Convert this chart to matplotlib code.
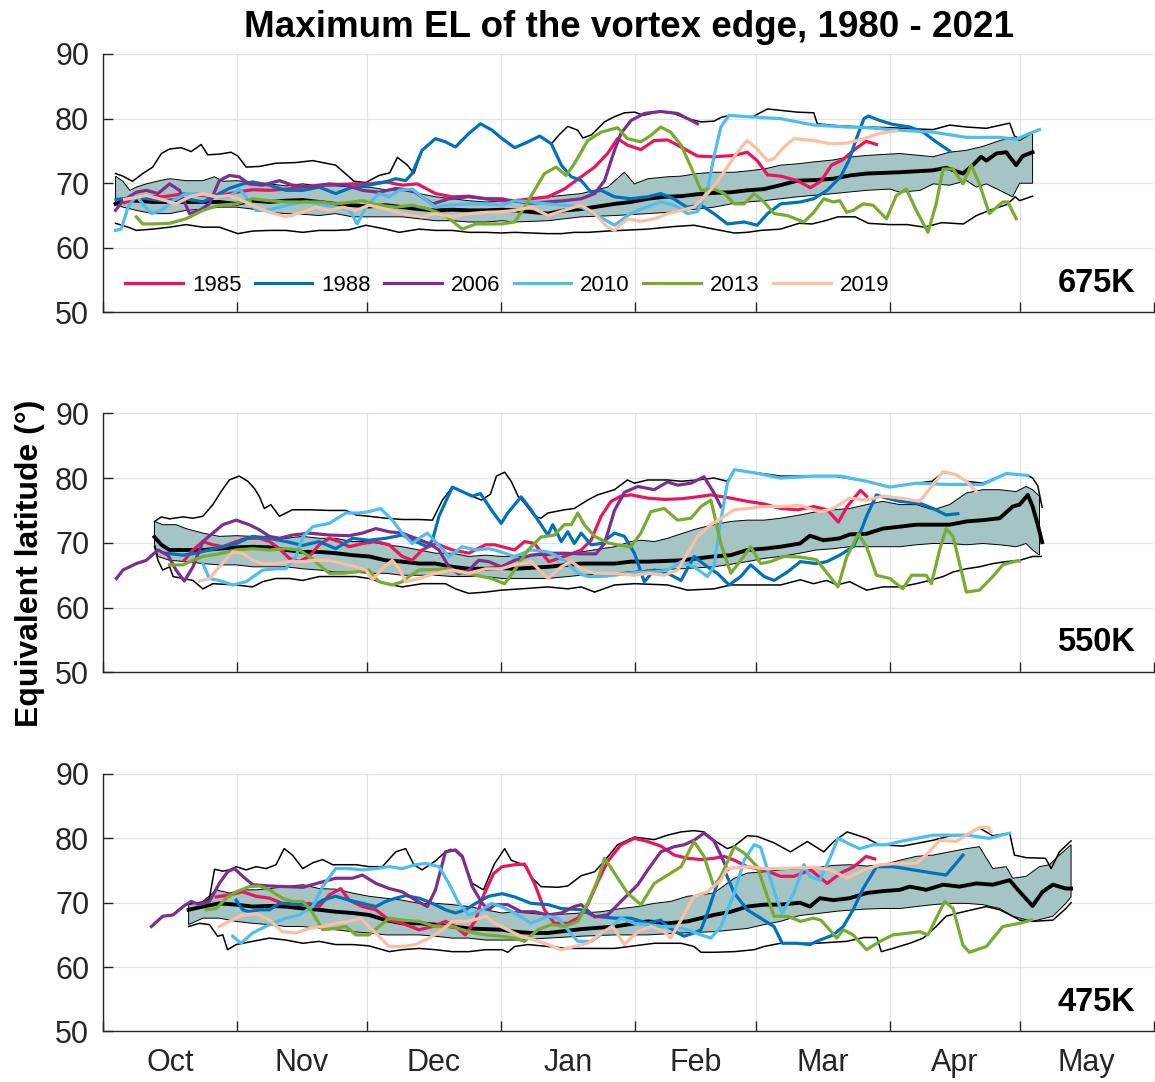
import numpy as np
import matplotlib
matplotlib.use("Agg")
import matplotlib.pyplot as plt

plt.rcParams['font.family'] = ['Liberation Sans', 'DejaVu Sans']

# x = days since 1 October, y = equivalent latitude (deg)
years = ['1985', '1988', '2006', '2010', '2013', '2019']
colors = ['#E8175D', '#0072BD', '#7E2F8E', '#4DBEEE', '#77AC30', '#FBBFA5']
levels = ['675K', '550K', '475K']
month_names = ['Oct', 'Nov', 'Dec', 'Jan', 'Feb', 'Mar', 'Apr', 'May']
month_starts = [0, 31, 61, 92, 123, 151, 182, 212, 243]

# ---------------- 675K ----------------
max_675 = [(2.9,71.5),(4.6,71.1),(6.8,70.3),(9.2,71.5),(11.5,72.5),(13.5,74.6),(15.4,75.3),(18.1,75.5),(20.4,74.9),
           (22.7,76.0),(24.2,74.4),(26.9,74.5),(29.6,74.8),(31.2,74.2),(33.1,72.5),(36.2,72.6),(40,73.1),(44.6,73.2),
           (48.5,73.5),(53.8,72.8),(58.1,70.3),(60.8,70.1),(63.8,71.2),(66.3,71.6),(68.1,74.0),(70.4,72.8),(71.9,71.5),
           (73.8,75.1),(76.9,76.9),(79.2,76.4),(81.5,75.6),(84.6,77.7),(87.3,79.2),(90,78.2),(92.3,76.9),(95.2,75.5),
           (98.3,76.4),(101,77.3),(103.7,76.1),(105.5,77.5),(107.5,78.8),(109.8,78.2),(111,77.0),(113,77.5),(116,79.5),
           (118.3,80.3),(120.6,80.9),(123,81.0),(125,80.5),(128.5,81.1),(132,80.8),(135,80.0),(138.3,79.5),(141.3,79.6),
           (143,80.2),(145,80.5),(150,80.2),(153.7,81.5),(155,81.4),(160.6,81.0),(164.4,80.9),(165.2,79.2),(170,78.9),
           (176,78.7),(182,78.6),(188,78.4),(192,78.3),(195.8,79.0),(199.7,78.7),(204.3,78.5),(209.7,79.3),(210.8,77.3),
           (212,76.9),(215,77.9)]
min_675 = [(2.9,63.8),(5.8,63.2),(7.7,62.7),(11.5,62.9),(15.4,63.2),(19.2,63.6),(23.1,63.2),(26.9,63.2),(31.2,62.2),
           (34.6,62.6),(38.5,62.7),(42.3,62.7),(46.2,62.4),(50,62.7),(53.8,62.7),(56.9,62.8),(60.8,63.5),(65.4,62.9),
           (68.5,62.4),(73.1,62.9),(76.9,62.7),(80.8,62.7),(84.6,62.4),(88.5,62.4),(92.1,62.3),(95.2,62.4),(99,62.3),
           (102.9,62.2),(106,62.2),(109,62.4),(112.1,62.4),(116.7,62.6),(119.8,62.7),(122.9,62.8),(126,62.9),(129,63.1),
           (132.1,63.3),(136.7,63.5),(141.3,62.9),(146,62.3),(149,62.4),(152.1,62.7),(156.7,62.9),(161,63.8),(164,63.7),
           (167,64.2),(170,64.8),(174,64.8),(177,63.8),(182,63.6),(186,63.6),(190,63.2),(194,63.9),(199,63.7),(202,65.0),
           (205,65.8),(209,66.7),(211,67.9),(212,67.3),(215,68.0)]
upper_675 = [(2.9,71.1),(4.6,70.3),(6.2,68.9),(7.7,69.4),(10,69.9),(13.1,70.4),(15.4,70.7),(19.2,70.4),(23.1,70.4),
             (25.8,71.0),(27.7,70.3),(30.8,70.4),(34.6,70.2),(38.5,69.9),(42.3,69.6),(46.2,69.9),(50,69.6),(53.8,69.6),
             (57.7,69.4),(61.5,69.4),(65.4,69.0),(69.2,68.9),(73.1,68.4),(76.9,67.9),(80.8,67.6),(84.6,67.3),(88.5,67.1),
             (95.2,67.3),(102.9,67.9),(110.6,68.4),(116.7,69.4),(120.6,71.7),(122.9,69.9),(126,70.7),(130.6,71.0),
             (133.7,71.1),(137.5,71.5),(141.3,71.7),(146,71.7),(149,71.9),(152.9,72.2),(156.7,72.8),(160.6,73.0),
             (164.4,73.3),(168.9,73.6),(172,74.0),(176.6,74.3),(184.3,74.6),(192,74.1),(195.8,74.8),(199.7,75.1),
             (203.5,75.7),(207.4,76.6),(210.4,77.1),(212,76.6),(215,77.8)]
lower_675 = [(2.9,66.8),(4.6,66.3),(7.7,65.8),(11.5,65.3),(15.4,65.3),(19.2,65.8),(23.1,66.0),(26.9,66.3),(30.8,66.3),
             (34.6,66.0),(38.5,65.5),(42.3,65.3),(46.2,65.2),(50,65.0),(53.8,65.3),(57.7,64.8),(61.5,64.8),(65.4,64.8),
             (69.2,64.8),(73.1,64.5),(76.9,64.2),(80.8,64.2),(84.6,64.0),(88.5,64.0),(92.3,64.2),(95.2,64.0),(102.9,64.2),
             (110.6,64.8),(118.3,65.0),(126,65.3),(130.6,65.5),(133.7,65.8),(137.5,66.0),(141.3,66.3),(145.2,66.8),
             (149,67.1),(152.9,67.3),(156.7,67.6),(160.6,67.9),(168.9,68.4),(176.6,68.9),(182,69.1),(184.3,68.6),
             (189,68.9),(192,69.9),(195.8,69.7),(199.7,70.4),(202,69.4),(204.3,69.9),(207.4,68.9),(210.4,67.9),
             (212,70.0),(215,70.0)]
median_675 = [(2.9,66.8),(4.6,67.3),(7.7,67.3),(11.5,67.1),(15.4,67.1),(19.2,67.1),(23.1,67.1),(26.9,67.1),(30.8,66.8),
              (34.6,67.3),(38.5,67.1),(42.3,67.3),(46.2,67.4),(50,67.1),(53.8,66.8),(57.7,66.6),(61.5,66.4),(65.4,66.6),
              (69.2,66.3),(73.1,66.0),(76.9,65.8),(80.8,65.9),(84.6,65.8),(88.5,65.8),(92.3,65.9),(95.2,65.8),
              (102.9,65.3),(106.7,65.8),(110.6,66.0),(118.3,66.8),(122.1,67.1),(126,67.6),(129.8,67.9),(133.7,68.0),
              (137.5,68.3),(141.3,68.5),(145.2,68.6),(149,68.9),(152.9,69.1),(156.7,69.7),(160.6,70.4),(165,70.5),
              (168.9,70.7),(172.7,71.2),(176.6,71.5),(184.3,71.7),(192,72.0),(195,72.4),(198.9,71.5),(201.2,72.8),
              (203.1,74.1),(204.3,73.5),(206.6,74.6),(208.9,74.8),(211.2,72.8),(212.7,74.2),(215,74.8)]
y1985_675 = [(5,67.0),(9,68.0),(13.8,67.9),(19.2,68.4),(25.4,67.9),(30.8,68.6),(34.6,69.0),(38.5,68.9),(42.3,69.1),
             (46.2,69.4),(50,69.7),(53.8,69.8),(57.7,69.9),(61.5,69.9),(65.4,70.2),(69.2,69.7),(72.7,69.9),(76.9,68.4),
             (80.8,67.9),(84.6,68.0),(88.5,67.6),(92.3,67.3),(95.2,67.3),(102.9,67.9),(106.7,69.1),(110.6,71.0),
             (113.7,72.5),(116.7,74.6),(119,76.9),(121.3,75.9),(124.4,75.2),(127.5,76.6),(130.6,76.7),(133.7,75.6),
             (137.5,74.2),(141.3,74.1),(146,74.3),(149,74.8),(151.3,73.5),(153.7,71.3),(156.7,71.1),(160.6,70.4),
             (163.6,69.3),(166,70.3),(168.5,72.8),(171,73.6),(174,75.3),(176.5,76.5),(178.9,76.0)]
y1988_675 = [(3,67.5),(7.7,67.8),(13.8,67.3),(19.2,67.6),(23.1,67.1),(26.9,68.4),(29.2,69.2),(32.3,69.9),(34.6,70.2),
             (38.5,69.7),(42.3,68.9),(46.2,68.9),(50,69.4),(53.8,68.4),(57.7,69.4),(61.5,69.7),(65.4,70.2),(67.7,70.7),
             (70,70.4),(71.5,71.5),(73.8,75.1),(76.9,76.9),(79.2,76.4),(81.5,75.6),(84.6,77.7),(87.3,79.2),(90,78.2),
             (92.3,76.9),(95.2,75.5),(98.3,76.4),(101,77.3),(103.7,76.1),(106,72.8),(108.3,71.0),(110.6,70.4),
             (112.9,68.6),(115.2,68.9),(118.3,67.9),(122,67.6),(126,67.9),(129,68.4),(132,67.6),(135,66.3),(138.3,66.6),
             (141.3,65.3),(144.4,63.7),(148.3,64.0),(151.3,63.5),(153.7,65.3),(156.7,66.8),(161.3,67.1),(164.4,67.6),
             (167.5,68.9),(170.6,71.0),(172.5,73.5),(174.3,77.0),(176,80.0),(177,80.4),(179.7,79.7),(182.7,79.1),
             (186.6,78.7),(189.7,77.9),(192.7,76.4),(195.8,75.0)]
y2006_675 = [(2.9,65.8),(4.6,67.3),(7.7,68.6),(10,68.9),(12.7,68.4),(15.4,69.9),(17.7,68.9),(20,65.3),(22.3,65.8),
             (24.6,66.8),(26.9,70.4),(29.2,71.2),(31.5,71.0),(33.8,69.9),(36.9,69.7),(40.8,70.4),(43.8,69.7),(47.7,69.4),
             (52.3,69.9),(56.2,69.7),(60,68.9),(63.8,68.6),(67.7,69.2),(71.5,68.9),(76.2,66.8),(80,67.6),(84.6,67.9),
             (88.5,67.6),(92.3,67.6),(93.6,67.4),(99,66.9),(102.9,67.1),(106.7,67.3),(110.6,67.6),(113.7,68.4),(116,70.4),
             (118.3,75.1),(119.8,77.7),(122.1,79.7),(125.2,80.8),(129,81.1),(132.9,80.8),(135.2,80.0),(137.5,79.2)]
y2010_675 = [(2.9,62.7),(4.2,62.9),(5.8,66.3),(7.7,68.1),(9.2,66.8),(11.2,65.3),(13.5,65.8),(16.2,67.3),(19.2,68.4),
             (21.5,68.4),(24.6,68.1),(26.9,67.9),(29.2,67.9),(31.5,69.1),(33.1,67.9),(35.4,65.8),(37.7,65.8),(40.8,66.3),
             (43.8,66.8),(46.9,67.1),(50,66.8),(53.8,66.3),(56.9,66.0),(58.8,63.7),(60.8,66.3),(63.8,68.4),(66.2,67.9),
             (68.5,68.9),(71.5,69.1),(73.8,67.9),(76.9,66.3),(80,66.6),(84.6,66.8),(88.5,66.8),(92.3,66.6),(95.2,67.3),
             (99,67.1),(102.9,66.8),(106.7,66.6),(110.6,66.3),(114.4,65.0),(118.3,63.5),(121.3,65.0),(124.4,66.0),
             (129,67.1),(132.1,66.6),(135.2,65.3),(137.5,65.6),(139.8,69.0),(141.3,74.1),(142.9,78.7),(144.8,80.5),
             (149,80.3),(156.7,80.0),(164.4,79.0),(172.1,78.7),(176.6,78.6),(184.3,78.2),(192,77.9),(199.7,77.1),
             (207.4,77.1),(211.2,76.8),(215,77.9),(216.6,78.3)]
y2013_675 = [(7.7,64.8),(9.2,63.7),(11.5,63.7),(15.4,63.8),(19.2,64.5),(23.1,65.8),(26.9,66.6),(30.8,66.8),(34.6,67.6),
             (38.5,67.3),(42.3,67.1),(46.2,67.1),(50,67.1),(53.8,66.8),(57.7,67.1),(60,67.3),(63.8,66.6),(67.7,66.3),
             (71.5,66.6),(75.4,66.0),(79.2,65.0),(83.1,62.9),(86.2,63.7),(89.2,63.7),(92.1,63.7),(95.2,64.0),(97.5,66.3),
             (99.8,68.9),(102.1,71.5),(104.8,72.5),(107.1,71.2),(109,73.0),(112.1,76.6),(115.2,77.9),(119,78.6),
             (121.3,76.9),(124.4,76.4),(126.7,77.4),(129,78.7),(131.3,77.9),(133.7,75.9),(136,72.5),(138.3,68.9),
             (141.3,69.1),(143.7,68.4),(146,66.8),(148.3,66.8),(150.6,68.4),(152.9,67.1),(155.2,65.3),(158.3,65.0),
             (162.1,64.0),(164.4,65.5),(166.7,67.6),(168.9,67.1),(170.4,67.3),(172,65.5),(173.5,65.8),(175.8,66.8),
             (178.1,66.6),(181.2,64.5),(183.5,68.1),(185.8,69.1),(188.1,65.8),(190.8,62.4),(192.7,66.8),(194.3,72.2),
             (196.6,72.2),(198.9,69.9),(200.8,72.8),(202.7,69.9),(205,65.3),(208.1,67.1),(209.3,67.1),(211.2,64.5)]
y2019_675 = [(5,67.5),(10,68.1),(13.1,67.6),(16.9,66.8),(20,67.9),(23.1,68.4),(26.2,67.9),(29.2,68.1),(32.3,67.3),
             (35.4,66.3),(38.5,65.5),(42.3,64.8),(46.2,65.5),(49.2,66.3),(52.3,65.8),(55.4,66.3),(58.5,65.8),(61.5,66.6),
             (65.4,66.0),(69.2,65.3),(73.8,64.8),(76.9,65.3),(80.8,64.8),(84.6,65.3),(88.5,65.5),(92.3,65.6),(95.2,65.8),
             (99,66.3),(102.9,65.0),(107.5,66.0),(110.6,66.6),(113.7,65.3),(116.7,63.2),(118.3,62.7),(121.3,64.5),
             (124.4,64.1),(127.5,64.5),(130.6,65.3),(133.7,65.8),(136.7,66.3),(139.8,68.4),(142.1,70.2),(144.4,72.5),
             (146.7,74.8),(149,76.6),(151.3,75.3),(153.7,73.5),(155.2,73.8),(157.5,75.6),(159.8,76.9),(164.4,76.6),
             (168.3,76.1),(172,76.2),(176,76.9),(179.5,77.7),(183.5,78.1)]

# ---------------- 550K ----------------
max_550 = [(11.9,73.3),(13.5,74.0),(15.4,73.7),(18.5,74.0),(20.8,73.8),(23.1,74.1),(25.4,75.9),(27.3,77.9),(29.2,79.7),
           (31.5,80.3),(33.5,79.5),(35,78.4),(36.2,77.1),(37.3,75.3),(38.8,75.9),(40.8,74.1),(43.8,75.1),(47.7,75.1),
           (52.3,75.0),(56.2,75.0),(58.5,74.3),(61.5,74.1),(65.4,73.8),(69.2,73.6),(73.1,73.6),(76.2,73.5),(78.5,76.6),
           (80.8,78.6),(83.1,77.9),(85.4,77.2),(87.5,76.6),(89.6,77.5),(91,80.3),(92.9,80.9),(94.4,79.5),(96,77.2),
           (97.5,76.1),(99.8,74.1),(101.3,73.8),(102.9,74.6),(106.7,75.1),(109,75.3),(112.1,76.6),(114.4,77.4),
           (118.3,78.2),(121.3,79.7),(122.9,79.2),(126,79.7),(130.6,79.7),(133.7,79.5),(137.5,79.7),(141.3,80.0),
           (144.4,79.5),(146,81.3),(149,81.0),(156.7,80.3),(164.4,80.3),(169,80.3),(176.6,79.5),(182,78.6),(188,79.2),
           (191.8,79.5),(194.3,80.9),(197.3,80.5),(199.7,79.5),(203.5,79.2),(208.9,80.7),(213.9,80.4),(215,80.0),
           (216.2,78.8),(217.2,75.5)]
min_550 = [(11.9,69.5),(12.7,67.3),(13.8,65.8),(15.4,66.3),(16.2,64.8),(18.5,64.5),(20.8,64.2),(23.1,62.9),(25.4,63.7),
           (30.8,63.5),(34.6,63.2),(36.9,64.0),(40,64.5),(43.1,64.5),(46.2,64.2),(50,64.8),(53.8,64.8),(58.5,64.8),
           (61.5,64.5),(65.4,63.7),(69.2,63.2),(73.8,63.7),(79.2,63.7),(81.5,62.9),(84.6,62.2),(88.5,62.4),(92.1,62.7),
           (96.7,62.9),(102.9,63.2),(107.5,62.9),(110.6,63.2),(113.7,62.4),(118.3,63.5),(122.9,63.7),(130.6,63.5),
           (135.2,62.7),(141.3,62.9),(145.2,63.5),(149,63.5),(156.7,63.5),(161.3,64.3),(164.3,63.7),(167.4,64.2),
           (169.7,63.5),(172.7,64.0),(176.6,62.7),(180.4,63.2),(184.3,63.2),(188.1,63.7),(191.2,64.2),(194.3,64.8),
           (196.6,65.5),(199.7,66.0),(202.7,66.3),(205.8,66.8),(208.9,67.1),(212,67.3),(215,67.9),(217,67.9)]
upper_550 = [(11.9,73.3),(13.8,72.8),(16.9,72.8),(19.2,72.2),(23.1,71.5),(26.9,71.0),(30.8,71.1),(34.6,71.0),(38.5,71.0),
             (42.3,70.7),(46.2,71.0),(50,70.7),(53.8,70.7),(57.7,70.2),(61.5,70.2),(65.4,69.7),(69.2,69.4),(73.1,68.9),
             (76.9,68.4),(80.8,68.4),(84.6,67.9),(88.5,68.1),(92.3,67.9),(95.2,67.9),(102.9,68.1),(110.6,68.6),
             (118.3,69.4),(122.1,70.2),(124.4,70.4),(127.5,70.2),(130.6,70.7),(133.7,71.4),(137.5,72.2),(141.3,72.8),
             (145.2,73.3),(149,73.5),(152.9,73.5),(156.7,73.8),(161.2,74.3),(165,74.8),(168.9,75.1),(172.7,75.3),
             (176.6,75.9),(180.4,76.4),(184.3,75.9),(188.1,75.9),(192,75.1),(195.8,75.9),(199.7,77.7),(203.5,78.2),
             (207.4,78.2),(211.2,77.9),(213.5,78.7),(215,78.2),(216.6,77.2)]
lower_550 = [(11.9,69.9),(12.7,67.9),(15.4,67.3),(19.2,67.1),(23.1,66.8),(26.9,66.6),(30.8,66.6),(34.6,66.3),(38.5,66.3),
             (42.3,66.3),(46.2,66.0),(50,65.8),(53.8,65.5),(57.7,65.5),(61.5,65.3),(65.4,65.3),(69.2,65.0),(73.1,65.0),
             (76.9,65.0),(80.8,64.8),(84.6,64.8),(88.5,64.8),(92.3,64.5),(95.2,64.5),(102.9,64.5),(110.6,65.0),
             (118.3,65.3),(126,65.8),(133.7,66.0),(141.3,66.3),(145.2,66.7),(149,67.1),(152.9,67.6),(156.7,67.9),
             (161.2,68.4),(165,68.9),(168.9,69.1),(172.7,69.4),(180.4,69.4),(184.3,69.4),(188.1,69.7),(192,69.9),
             (195.8,69.9),(199.7,69.7),(203.5,69.9),(207.4,69.7),(211.2,69.4),(213.5,69.9),(215,68.9),(216.6,68.1)]
median_550 = [(11.9,70.9),(13.5,69.7),(15.4,68.9),(19.2,68.9),(23.1,68.9),(26.9,69.1),(30.8,69.3),(34.6,69.4),
              (38.5,69.3),(42.3,68.9),(46.2,68.6),(50,68.6),(53.8,68.4),(57.7,68.1),(61.5,67.9),(65.4,67.3),(69.2,67.1),
              (73.1,66.8),(76.9,66.8),(80.8,66.3),(84.6,66.0),(88.5,66.0),(92.3,66.1),(95.2,66.0),(102.9,66.3),
              (110.6,66.8),(118.3,66.8),(122.1,67.1),(126,67.1),(129.8,67.2),(133.7,67.3),(137.5,67.6),(141.3,67.9),
              (145.2,68.1),(149,68.9),(152.9,69.1),(156.7,69.4),(161.2,69.9),(163.5,71.1),(166.6,70.4),(170.4,70.7),
              (172.7,71.3),(176.6,71.4),(180.4,72.2),(184.3,72.5),(188.1,72.8),(192,72.8),(195.8,72.8),(199.7,73.3),
              (203.5,73.5),(207.4,73.8),(210.4,75.6),(212,75.9),(213.9,77.4),(215,75.6),(216.2,72.8),(217.2,70.1)]
y1985_550 = [(18.8,67.3),(20.8,68.9),(23.1,70.2),(25.4,69.7),(27.7,69.4),(30.8,70.2),(33.1,70.7),(36.2,70.7),(38.5,70.2),
             (40.8,69.1),(43.1,67.6),(45.4,67.1),(47.7,67.9),(50,69.7),(52.3,70.7),(54.6,70.2),(56.9,69.4),(60,69.9),
             (63.1,70.2),(66.2,69.7),(69.2,67.9),(71.5,67.3),(73.8,68.9),(76.9,69.9),(80.8,68.9),(84.6,68.4),(88.5,69.7),
             (90.6,69.7),(92.3,69.4),(95.2,68.9),(97.5,70.2),(99.8,69.9),(102.1,67.9),(103.1,67.1),(106.7,67.9),
             (110.6,68.9),(112.9,70.4),(115.2,74.1),(117.5,76.4),(119.8,77.2),(122.1,77.4),(126,76.9),(129.8,76.7),
             (133.7,76.8),(137.5,77.1),(140.6,77.4),(145.2,76.9),(149,76.4),(152.9,76.0),(156.7,75.3),(160.6,75.1),
             (164.4,75.6),(167.5,75.1),(170.1,73.2),(172.1,75.6),(175.2,78.1),(176.6,77.2)]
y1988_550 = [(14.6,68.4),(18.5,68.1),(21.5,68.4),(24.6,68.9),(27.7,69.4),(30.8,69.9),(34.6,71.0),(38.5,70.7),(42.3,70.2),
             (46.2,69.6),(50,70.2),(53.8,69.1),(57.7,70.7),(61.5,70.4),(65.4,70.7),(69.2,71.2),(72.3,70.2),(75,69.4),
             (76.2,70.4),(77.7,74.1),(80.8,78.6),(83.1,77.9),(85.4,77.2),(87.3,77.6),(89.8,75.1),(92.1,73.0),(93.6,74.6),
             (96.7,77.1),(99,75.1),(101.3,72.8),(102.9,71.2),(104,72.8),(106,70.2),(107.5,71.7),(109,69.9),(110.6,71.5),
             (112.9,69.7),(115.2,69.9),(118.3,71.5),(120.6,71.0),(122.9,68.4),(125.2,64.0),(127.5,65.8),(130.6,65.3),
             (133.7,64.2),(136.7,67.9),(139.8,66.3),(142.1,65.3),(144.8,63.5),(147.5,64.8),(149.8,66.6),(152.9,64.8),
             (155.2,64.2),(158.3,65.5),(161.3,67.1),(165,66.8),(167.4,67.1),(170.4,68.1),(173.5,69.4),(175.4,72.0),
             (176.6,74.1),(178.9,77.4),(181.2,76.9),(184.3,76.4),(188.9,76.1),(192,75.3),(195,74.3),(197.7,74.5)]
y2006_550 = [(3.1,64.5),(4.6,65.8),(7.7,66.8),(10,67.3),(12.7,68.9),(15,68.1),(16.9,65.8),(18.8,64.1),(20.8,66.3),
             (23.1,70.2),(25.4,71.5),(27.7,72.8),(30.8,73.5),(33.8,72.8),(36.2,72.0),(38.5,71.0),(40.8,70.7),(43.8,71.2),
             (47.7,71.5),(52.3,71.2),(56.9,71.1),(60,71.5),(63.1,72.2),(66.2,71.7),(69.2,71.5),(72.3,70.7),(75.4,69.9),
             (77.7,68.9),(80,66.3),(82.3,65.2),(84.6,65.8),(86.9,67.3),(89.2,67.1),(92.1,66.3),(95.2,67.3),(99,68.1),
             (102.9,68.4),(106.7,68.4),(110.6,68.3),(114,68.3),(116,69.9),(118.3,75.0),(120.6,77.8),(123.7,78.7),
             (127.5,78.2),(130.6,79.4),(132.9,78.9),(136,79.2),(139,80.2),(141.3,77.7),(142.9,75.6)]
y2010_550 = [(23.1,66.8),(24.6,64.5),(26.9,64.2),(30,63.5),(33.1,64.0),(36.9,65.8),(40,66.0),(42.3,66.0),(44.6,67.9),
             (46.2,70.9),(48.5,72.5),(52.3,73.0),(56.2,74.6),(59.2,74.6),(61.5,74.8),(64.2,75.3),(66.9,73.5),(69.2,71.5),
             (71.5,69.9),(73.8,71.0),(75,71.5),(76.9,70.2),(80,67.9),(83.1,69.4),(86.2,68.9),(89.2,69.1),(90.6,68.9),
             (95.2,67.9),(99,68.9),(102.9,68.6),(105.2,67.9),(107.5,66.8),(109.8,65.3),(112.1,64.8),(115.2,64.8),
             (118.3,65.0),(121.3,65.3),(124.4,65.5),(127.5,65.5),(130.6,65.8),(133.7,67.1),(136.7,66.3),(139.8,64.8),
             (141.3,66.3),(142.9,73.5),(144.4,79.2),(146,81.3),(150.6,80.8),(156.7,80.0),(164.4,80.3),(170.4,80.3),
             (176.6,79.5),(181.9,78.6),(188.1,79.2),(195.8,79.0),(203.5,79.0),(208.9,80.7),(213.9,80.4)]
y2013_550 = [(15.4,66.6),(18.5,66.6),(20.8,67.3),(23.1,67.9),(26.9,68.3),(30.8,68.9),(34.6,69.1),(38.5,68.9),(42.3,69.1),
             (45.4,68.9),(47.7,67.9),(50,66.6),(52.3,65.3),(55.4,65.3),(58.5,65.5),(61.5,65.8),(63.8,64.0),(66.9,63.5),
             (69.2,64.0),(70.8,64.8),(73.1,65.8),(76.9,65.9),(80,66.0),(83.1,65.3),(86.2,65.0),(89.8,64.5),(92.9,63.7),
             (95.2,65.8),(98.3,68.9),(101.3,70.9),(104.4,71.2),(106.7,72.8),(108.3,72.8),(109.8,74.6),(111.3,72.8),
             (113.7,71.0),(116.7,70.0),(119.8,69.6),(122.1,69.4),(124.4,71.5),(126.7,74.8),(129.8,75.3),(132.9,73.5),
             (136,73.8),(138.3,75.6),(140.6,76.6),(142.9,69.9),(145.2,65.3),(147.5,67.3),(149.8,69.4),(152.1,66.8),
             (154.4,67.1),(157.5,67.9),(161.3,67.8),(165,67.4),(167.3,65.5),(170,63.2),(172,67.8),(174.7,71.4),
             (176.6,69.4),(178.9,65.0),(182,64.5),(185,62.9),(187,65.0),(190.4,65.0),(191.6,63.7),(193.5,68.9),
             (195,72.2),(196.6,71.0),(199.7,62.4),(202.7,62.7),(205.8,64.8),(208.1,66.6),(211.2,67.2),(212,67.2)]
y2019_550 = [(22.3,64.1),(24.6,64.5),(26.9,66.3),(30,68.6),(32.3,68.4),(34.6,67.3),(36.9,66.8),(40,66.8),(43.1,67.1),
             (46.2,67.1),(49.2,67.3),(52.3,67.3),(55.4,66.8),(58.5,66.3),(60.8,65.8),(62.3,64.3),(64.6,66.0),(66.9,67.3),
             (68.5,66.0),(70,64.0),(73.1,64.5),(76.9,65.3),(80.8,65.8),(84.6,65.3),(88.5,66.0),(92.1,66.0),(95.2,66.6),
             (99,67.1),(102.9,64.5),(106,66.3),(108.3,67.1),(110.6,66.0),(113.7,65.3),(118.3,65.3),(122.9,65.0),
             (126,65.3),(129.8,65.0),(132.9,65.8),(135.2,68.4),(137.5,71.0),(140.6,72.8),(143.7,74.1),(146,75.1),
             (149,75.3),(152.9,75.6),(156.7,75.6),(161.2,75.8),(165.8,74.8),(168.9,75.3),(172.7,76.9),(176.6,76.6),
             (180.4,77.2),(184.3,76.9),(188.9,76.4),(192,79.0),(194.3,81.0),(197.3,80.5),(199.7,79.5),(202,77.9)]

# ---------------- 475K ----------------
max_475 = [(19.8,69.9),(23.1,69.9),(24.6,70.7),(25.8,75.2),(27.7,74.9),(29.2,75.1),(30.8,75.6),(33.1,75.1),(35.4,75.6),
           (37.7,75.3),(40,75.9),(41.9,78.4),(43.8,77.4),(46.2,75.3),(48.5,76.2),(50.8,76.7),(53.1,75.9),(55.4,75.9),
           (58.5,75.9),(61.5,75.6),(64.6,75.6),(67.7,77.9),(70,78.4),(71.9,75.9),(73.8,75.1),(76.9,76.5),(79.2,77.9),
           (80.4,78.3),(81.5,78.0),(83.1,77.0),(85.4,73.0),(88,72.0),(90.5,76.0),(92.9,78.4),(94.4,76.6),(96,76.2),
           (98,75.6),(99,74.0),(101.3,72.5),(105.2,72.4),(107.5,72.6),(110.6,74.2),(113.7,74.8),(116,76.5),(119,79.0),
           (122.9,80.2),(125,80.0),(127.5,79.8),(130.6,80.5),(133.7,81.0),(136.7,81.2),(139,81.0),(141.3,79.7),
           (144.4,78.4),(146,78.8),(149,80.4),(151.3,80.3),(155.2,79.3),(159,77.9),(162.9,79.5),(166.7,77.9),(169,79.5),
           (172.1,81.0),(174.4,80.5),(176.7,80.0),(179.5,79.0),(185,78.8),(192,79.7),(196,80.4),(199.7,80.5),
           (202.7,81.6),(205.8,80.4),(209.7,80.8),(210.8,77.4),(213.5,77.0),(218,76.9),(219.3,75.3),(221.2,77.9),
           (223.9,79.6)]
min_475 = [(19.8,66.3),(22.3,66.8),(24.6,66.6),(26.5,64.8),(27.7,65.0),(28.8,62.7),(30.8,63.5),(34.6,64.0),(38.5,64.5),
           (42.3,64.2),(46.2,63.7),(50,64.0),(53.8,63.5),(57.7,63.5),(61.5,63.3),(66.2,62.4),(69.2,62.7),(73.1,62.9),
           (76.9,62.7),(80.8,62.4),(84.6,62.4),(88.5,62.7),(92.3,62.7),(93.6,62.3),(95.2,63.2),(98.3,63.5),(102.9,63.2),
           (107.5,62.9),(110.6,62.9),(118.3,62.9),(122.9,63.3),(127.5,63.7),(133.7,63.7),(136.7,63.2),(138.3,62.3),
           (141.3,62.3),(146,62.4),(150.6,62.7),(152.9,63.2),(156.7,63.7),(160.6,63.7),(165,63.7),(172,64.0),(176,64.6),
           (179,64.6),(180,62.4),(182.7,62.9),(186.6,63.7),(189.7,64.5),(192.7,66.3),(195,67.9),(196.6,68.2),
           (199.7,68.7),(204.3,69.4),(207.4,68.9),(210.4,67.9),(212,67.3),(215,67.1),(219.7,67.3),(222.7,69.1),
           (223.9,70.0)]
upper_475 = [(19.8,69.7),(23.1,70.2),(26.2,72.0),(29.2,71.5),(32.3,72.0),(35.4,72.0),(38.5,72.2),(42.3,72.5),(46.2,72.8),
             (50,72.2),(53.8,72.1),(57.7,71.5),(61.5,71.0),(65.4,70.7),(69.2,70.4),(73.1,69.9),(76.9,69.9),(80.8,69.7),
             (84.6,69.4),(88.5,68.9),(92.3,68.4),(95.2,68.6),(102.9,68.1),(110.6,68.4),(115.2,68.6),(119.8,69.1),
             (123.7,69.4),(127.5,69.9),(131.3,70.2),(135.2,71.0),(141.3,71.5),(146,73.8),(149,74.6),(152.9,74.8),
             (156.7,75.1),(164.4,75.4),(168.9,75.8),(172.7,75.9),(176.6,75.7),(180.4,75.9),(184.3,76.6),(188.1,77.2),
             (192,77.4),(195.8,77.9),(199.7,78.4),(202.7,78.7),(205.8,75.3),(208.9,75.6),(210.4,73.8),(213.5,74.1),
             (216.6,75.6),(218.9,75.9),(221.2,77.4),(223.9,79.0)]
lower_475 = [(19.8,66.6),(23.1,67.6),(26.9,67.6),(30.8,67.1),(34.6,66.8),(38.5,66.6),(42.3,66.3),(46.2,66.3),(50,66.0),
             (53.8,65.8),(57.7,65.5),(61.5,65.3),(65.4,65.0),(69.2,65.0),(73.1,65.0),(76.9,64.8),(80.8,64.5),(84.6,64.5),
             (88.5,64.2),(92.3,64.2),(95.2,64.2),(102.9,64.5),(110.6,64.8),(118.3,65.0),(126,65.0),(133.7,65.3),
             (141.3,65.5),(149,66.0),(152.9,66.6),(156.7,67.1),(161,68.0),(165,68.3),(170,68.7),(176,69.0),(180.4,69.1),
             (184.3,69.1),(188.1,69.4),(192,69.7),(195.8,69.9),(199.7,69.9),(203.5,69.7),(207.4,69.1),(210.4,67.9),
             (215,67.1),(219.7,67.9),(222.7,69.9),(223.9,70.9)]
median_475 = [(19.8,68.9),(23.1,69.4),(26.9,69.9),(30.8,69.7),(34.6,69.4),(38.5,69.5),(42.3,69.4),(46.2,69.1),(50,68.9),
              (53.8,68.6),(57.7,68.4),(61.5,68.1),(65.4,67.3),(69.2,66.8),(73.1,66.8),(76.9,66.6),(80.8,66.3),(84.6,66.0),
              (88.5,65.9),(92.3,65.8),(95.2,65.5),(99,65.3),(102.9,65.3),(110.6,65.9),(118.3,66.3),(122.1,66.7),
              (126,67.1),(130.6,66.8),(135.2,67.1),(138.3,67.6),(141.3,68.1),(145.2,68.6),(149,69.4),(152.9,69.7),
              (156.7,69.7),(161.2,70.0),(163.5,69.4),(165.8,70.7),(168.9,70.4),(172.7,70.7),(176.6,71.5),(180.4,71.8),
              (184.3,72.0),(186.6,72.5),(190.4,72.0),(194.3,72.8),(198.1,72.5),(202,73.0),(205.8,72.8),(209.7,73.5),
              (212,71.7),(215,69.5),(217.3,71.7),(219.7,72.8),(222.7,72.2),(223.9,72.2)]
y1985_475 = [(26.2,70.9),(29.2,71.2),(32.3,71.7),(35.4,71.0),(38.5,70.7),(41.5,69.9),(44.6,69.7),(47.7,69.9),(50,69.4),
             (52.3,71.2),(55,72.2),(56.9,70.4),(60,69.4),(63.1,68.9),(66.2,67.3),(69.2,66.8),(73.1,65.8),(76.2,66.3),
             (79.2,67.1),(81.5,66.3),(83.8,65.0),(86.2,67.3),(87.6,70.5),(90.3,74.5),(92.3,75.6),(95.2,75.9),(97.5,76.0),
             (99.8,73.0),(102.1,68.9),(104.4,66.8),(107.5,66.8),(109.8,67.6),(112.1,69.7),(114.4,73.2),(116.7,76.4),
             (119.8,79.0),(122.9,80.0),(126,79.5),(129,78.8),(132.1,77.4),(135.2,76.9),(138.3,76.7),(141.3,76.9),
             (143.7,77.2),(146,76.6),(149,75.6),(152.9,75.1),(156.7,74.1),(159.8,74.1),(163.7,75.1),(167.5,73.0),
             (170.6,74.6),(173.7,75.6),(176.5,77.2),(178.5,76.8)]
y1988_475 = [(30.8,70.4),(32.3,68.9),(33.8,68.6),(36.2,68.9),(38.5,68.9),(40.8,69.9),(43.1,69.9),(46.2,69.7),(48.5,69.4),
             (50.8,70.4),(53.8,71.0),(56.9,70.4),(60,69.9),(63.1,69.4),(65.4,70.2),(67.7,70.7),(70,71.1),(73.1,70.7),
             (76.2,69.9),(79.2,68.9),(81.5,68.4),(83.8,68.9),(86.2,69.9),(89.2,71.0),(92.3,71.4),(95.2,70.9),(99,69.9),
             (102.9,69.7),(106,69.1),(110.6,68.9),(113.7,67.9),(118.3,67.6),(122.1,67.6),(126,66.8),(129,67.3),
             (130.6,66.3),(132.9,65.3),(134.4,64.8),(136.7,65.3),(138.3,65.8),(139.8,68.4),(142.1,73.0),(143.7,75.1),
             (146,71.5),(149,68.9),(152.1,67.6),(155.2,66.3),(157.1,63.7),(160.6,63.7),(163.5,63.5),(165.8,64.2),
             (168.9,65.0),(171.2,66.3),(173.5,68.9),(175.8,72.2),(178.9,75.6),(182.7,75.6),(187.4,75.1),(192,74.6),
             (195,74.3),(197.3,76.1),(198.9,77.4)]
y2006_475 = [(11.2,66.3),(13.8,67.9),(16.2,68.1),(18.5,69.4),(20.4,70.2),(22.3,69.7),(24.6,70.2),(26.9,73.0),(28.8,74.8),
             (30.4,75.3),(32.3,74.1),(34.6,72.8),(38.5,72.6),(42.3,72.5),(46.2,72.4),(50,73.1),(53.8,73.8),(57.7,73.8),
             (60,74.3),(63.1,73.0),(66.2,72.2),(69.2,71.7),(72.3,70.4),(75,69.4),(76.9,72.0),(79.2,77.9),(81.5,78.2),
             (83.1,77.2),(85.4,72.5),(87.7,69.9),(89.2,68.9),(90.6,69.7),(93.6,69.7),(96.7,68.6),(99.8,68.6),(102.9,68.1),
             (106,68.4),(109,69.4),(110.6,69.7),(113.7,67.8),(116.7,68.1),(119.8,70.2),(123.7,72.8),(126,75.1),(129,77.9),
             (132.1,78.7),(134.4,79.0),(136.7,79.7),(139,80.8),(141.3,79.6),(142.9,77.4),(144.4,75.1)]
y2010_475 = [(30,64.8),(31.9,63.7),(34.6,65.3),(38.5,66.6),(42.3,67.6),(45.4,68.1),(48.5,69.4),(50.8,72.5),(53.8,75.3),
             (56.9,75.3),(60,75.1),(63.1,75.3),(66.2,75.6),(69.2,75.3),(72.3,75.9),(74.6,76.1),(77.7,75.6),(80,73.0),
             (82.3,69.9),(84.6,68.1),(87.7,68.9),(89.8,69.9),(92.1,69.4),(95.2,68.4),(99,66.8),(102.9,67.9),(105.2,67.6),
             (107.5,65.8),(109.8,64.0),(112.9,64.0),(116.7,65.8),(119.8,67.6),(122.9,66.8),(126,66.6),(129,66.3),
             (132.1,66.3),(135.2,65.8),(138.3,65.0),(140.6,64.5),(142.9,66.3),(146,71.5),(148.3,76.6),(150.6,79.0),
             (152.1,78.6),(153.7,75.1),(155.6,71.0),(157.1,68.4),(159.8,71.5),(162.1,75.9),(163.5,74.1),(165.8,73.5),
             (168.1,76.9),(170,80.0),(173,79.0),(175,78.4),(178.1,79.0),(181.2,79.0),(184.3,79.5),(192,80.5),
             (199.7,80.5),(205,80.0),(209.7,80.8)]
y2013_475 = [(23.8,68.9),(26.2,69.1),(28.5,70.7),(30.8,71.7),(33.8,72.5),(36.2,72.6),(38.5,72.0),(41.5,70.7),(43.8,70.2),
             (46.2,70.2),(48.5,68.4),(50.8,65.8),(53.8,66.0),(56.2,66.3),(58.5,65.0),(61.5,65.0),(63.8,66.3),(66.2,67.6),
             (69.2,67.3),(73.1,67.1),(76.9,66.3),(80.8,66.3),(84.6,65.5),(88.5,65.0),(92.1,64.8),(95.2,64.5),(97.5,64.0),
             (100.6,65.8),(103.7,66.6),(106.7,66.3),(109.8,67.1),(112.1,69.9),(114.4,73.5),(116,76.9),(118.3,74.6),
             (121.3,71.5),(124.4,69.7),(127.5,73.0),(130.6,74.3),(133.7,75.6),(136.7,79.5),(139,77.2),(141.3,72.5),
             (142.9,74.1),(146,78.7),(148.3,77.7),(151.3,75.6),(153.7,70.9),(155.2,67.9),(158.3,67.9),(161.3,67.1),
             (164.3,67.6),(166,67.3),(167.4,66.3),(169.7,64.5),(171.2,65.8),(173.5,65.0),(176.6,62.7),(179.7,64.0),
             (182.7,65.0),(186.6,65.3),(188.9,65.5),(190.8,65.0),(192.7,67.6),(194.7,70.2),(196.6,69.1),(198.9,63.4),
             (200.4,62.3),(204.3,63.2),(208.1,66.3),(212,66.8),(214.7,67.3)]
y2019_475 = [(26.9,66.3),(29.2,67.1),(32.3,68.1),(35.4,68.3),(38.5,67.3),(41.5,65.5),(44.6,65.3),(47.7,66.0),(50.8,66.3),
             (53.8,66.8),(56.9,67.1),(59.6,67.6),(61.5,66.3),(63.8,64.8),(66.2,63.2),(69.2,63.2),(72.3,63.5),(75.4,64.5),
             (78.5,65.8),(80.8,67.1),(84.6,67.1),(88.5,67.9),(90.6,66.8),(93.6,65.8),(96.7,64.8),(99.8,64.2),(102.9,63.5),
             (106,62.7),(109,63.2),(112.1,63.7),(115.2,65.3),(117.9,66.3),(120.6,63.5),(123.7,65.5),(126.7,66.3),
             (129.8,65.5),(131.3,64.5),(133.7,67.3),(136.7,71.0),(139.8,71.7),(142.9,73.5),(144.4,75.3),(149,75.6),
             (152.9,75.3),(156.7,75.3),(164.4,75.5),(168.3,75.1),(172.1,73.8),(176,75.1),(179.8,75.9),(183.5,76.1),
             (188.1,76.1),(190.4,77.4),(193.5,79.7),(197.3,79.5),(200.4,80.8),(202.7,81.7),(204.7,81.7),(205.4,81.0)]

panels = [
    (max_675, min_675, upper_675, lower_675, median_675,
     [y1985_675, y1988_675, y2006_675, y2010_675, y2013_675, y2019_675]),
    (max_550, min_550, upper_550, lower_550, median_550,
     [y1985_550, y1988_550, y2006_550, y2010_550, y2013_550, y2019_550]),
    (max_475, min_475, upper_475, lower_475, median_475,
     [y1985_475, y1988_475, y2006_475, y2010_475, y2013_475, y2019_475]),
]


def xy(pts):
    a = np.array(pts)
    return a[:, 0], a[:, 1]


fig = plt.figure(figsize=(11.55, 10.82), dpi=100)
boxes = [[0.0892, 0.7112, 0.910, 0.2389],
         [0.0892, 0.3785, 0.910, 0.2396],
         [0.0892, 0.0467, 0.910, 0.2380]]
tick_col = '#262626'
mid_month = [(month_starts[i] + month_starts[i + 1]) / 2 for i in range(8)]

for k, (box, panel) in enumerate(zip(boxes, panels)):
    ax = fig.add_axes(box)
    mx, mn, up, lo, med, yrs = panel

    ux, uy = xy(up)
    lx, ly = xy(lo)
    ax.fill(np.r_[ux, lx[::-1]], np.r_[uy, ly[::-1]], facecolor='#A5C4C4',
            edgecolor='k', linewidth=0.7, zorder=1)
    ax.plot(*xy(mx), color='k', lw=1.1, zorder=2)
    ax.plot(*xy(mn), color='k', lw=1.1, zorder=2)
    ax.plot(*xy(med), color='k', lw=2.8, zorder=3)
    for j, (pts, c, name) in enumerate(zip(yrs, colors, years)):
        ax.plot(*xy(pts), color=c, lw=2.3, zorder=4 + j, label=name)

    ax.set_xlim(0.8, 243.1)
    ax.set_ylim(50, 90)
    ax.set_yticks([50, 60, 70, 80, 90])
    ax.set_xticks(month_starts)
    ax.set_xticklabels([])
    ax.set_xticks(mid_month, minor=True)
    if k == 2:
        ax.set_xticklabels(month_names, minor=True)
    ax.tick_params(axis='both', which='major', direction='in', length=7, width=1,
                   color=tick_col, labelcolor=tick_col, labelsize=22, pad=10)
    ax.tick_params(axis='x', which='minor', length=0, labelsize=22,
                   labelcolor=tick_col, pad=12)
    ax.grid(True, which='major', color='#E3E3E3', lw=0.9, zorder=0)
    ax.set_axisbelow(True)
    for s in ['top', 'right']:
        ax.spines[s].set_visible(False)
    for s in ['left', 'bottom']:
        ax.spines[s].set_color(tick_col)
        ax.spines[s].set_linewidth(1.0)

    ax.text(0.982, 0.114, levels[k], transform=ax.transAxes, ha='right', va='center',
            fontsize=23.5, fontweight='bold')

    if k == 0:
        ax.set_title('Maximum EL of the vortex edge, 1980 - 2021', fontsize=26.5,
                     fontweight='bold', pad=12)
        ax.legend(loc='center left', bbox_to_anchor=(0.021, 0.106), ncol=6, frameon=False,
                  fontsize=16, handlelength=2.6, handletextpad=0.4, columnspacing=0.6,
                  borderpad=0, borderaxespad=0)

fig.text(0.026, 0.479, 'Equivalent latitude (°)', rotation=90, ha='center', va='center',
         fontsize=23, fontweight='bold')

fig.savefig('out.png', dpi=100)
